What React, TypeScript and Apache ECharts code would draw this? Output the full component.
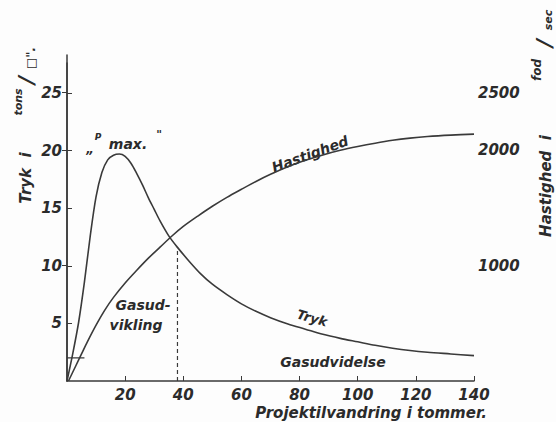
import React, { useEffect, useRef } from "react";
import * as echarts from "echarts";

// Tryk (pressure, tons / sq. inch) vs projectile travel (inches)
const trykX = [0, 2, 4, 6, 8, 10, 12, 14, 16, 18, 20, 22, 24, 26, 28, 30, 32, 35, 38, 42, 46, 50, 55, 60, 65, 70, 76, 82, 88, 94, 100, 106, 112, 118, 124, 132, 140];
const trykY = [0, 2.4, 5.1, 8.6, 12.6, 16.0, 18.1, 19.2, 19.6, 19.7, 19.5, 18.9, 18.0, 17.0, 15.9, 14.9, 13.9, 12.6, 11.6, 10.4, 9.3, 8.4, 7.5, 6.7, 6.05, 5.5, 4.95, 4.5, 4.05, 3.7, 3.4, 3.1, 2.85, 2.65, 2.5, 2.35, 2.2];

// Hastighed (velocity, feet / sec)
const hastX = [0.5, 3, 5, 7, 10, 13, 16, 20, 24, 28, 32, 36, 40, 45, 50, 55, 60, 65, 70, 76, 82, 88, 94, 100, 106, 112, 118, 124, 132, 140];
const hastY = [0, 130, 235, 340, 485, 615, 725, 850, 960, 1065, 1160, 1255, 1340, 1430, 1515, 1592, 1662, 1730, 1792, 1858, 1913, 1960, 2000, 2033, 2062, 2087, 2106, 2120, 2132, 2140];

// end of gas development (dashed line) and initial pressure mark
const gasEndX = [38, 38];
const gasEndY = [0, 11.6];
const startMarkX = [0, 6];
const startMarkY = [2, 2];

const xTicks = [20, 40, 60, 80, 100, 120, 140];
const leftTicks = [5, 10, 15, 20, 25];
const rightTicks = [1000, 2000, 2500];

const INK = "#3a3a3a";
const TXT = "#2b2b2b";
const FONT = "DejaVu Sans";

const zip = (xs: number[], ys: number[]) => xs.map((x, i) => [x, ys[i]]);

export default function App() {
  const ref = useRef<HTMLDivElement>(null);
  useEffect(() => {
    if (!ref.current) return;
    const chart = echarts.init(ref.current, undefined, { renderer: "svg" });
    const lbl = {
      fontFamily: FONT,
      fontStyle: "italic",
      fontWeight: "bold",
      fontSize: 15,
      color: TXT,
      formatter: (v: number) => String(v),
    };
    const txt = (x: number, y: number, text: string, size: number, rot = 0) => ({
      type: "text",
      x,
      y,
      rotation: rot,
      style: {
        text,
        fill: TXT,
        font: `italic bold ${size}px "${FONT}"`,
        textAlign: "center",
        textVerticalAlign: "middle",
      },
    });
    chart.setOption({
      animation: false,
      backgroundColor: "#fdfdfd",
      grid: [
        { left: 67, right: 82, top: 55, bottom: 41 },
        { left: 67, right: 82, top: 63, bottom: 41 },
      ],
      xAxis: [
        {
          type: "value",
          gridIndex: 0,
          min: 0,
          max: 140,
          interval: 20,
          splitLine: { show: false },
          axisLine: { lineStyle: { color: INK, width: 1.5 } },
          axisTick: { inside: true, length: 5, customValues: xTicks, lineStyle: { color: INK } },
          axisLabel: { ...lbl, margin: 6, customValues: xTicks },
        },
        { type: "value", gridIndex: 1, min: 0, max: 140, show: false },
      ],
      yAxis: [
        {
          type: "value",
          gridIndex: 0,
          min: 0,
          max: 28.3,
          splitLine: { show: false },
          axisLine: { show: true, lineStyle: { color: INK, width: 1.5 } },
          axisTick: { show: true, inside: true, length: 5, customValues: leftTicks, lineStyle: { color: INK } },
          axisLabel: { ...lbl, margin: 5, customValues: leftTicks },
        },
        {
          type: "value",
          gridIndex: 1,
          position: "right",
          min: 0,
          max: 2757,
          splitLine: { show: false },
          axisLine: { show: true, lineStyle: { color: INK, width: 1.5 } },
          axisTick: { show: true, inside: true, length: 5, customValues: rightTicks, lineStyle: { color: INK } },
          axisLabel: { ...lbl, margin: 4, customValues: rightTicks },
        },
      ],
      series: [
        {
          name: "Tryk",
          type: "line",
          xAxisIndex: 0,
          yAxisIndex: 0,
          smooth: 0.3,
          showSymbol: false,
          data: zip(trykX, trykY),
          lineStyle: { color: INK, width: 1.6 },
        },
        {
          name: "Hastighed",
          type: "line",
          xAxisIndex: 1,
          yAxisIndex: 1,
          smooth: 0.3,
          showSymbol: false,
          data: zip(hastX, hastY),
          lineStyle: { color: INK, width: 1.6 },
        },
        {
          name: "Gasudvikling slut",
          type: "line",
          xAxisIndex: 0,
          yAxisIndex: 0,
          showSymbol: false,
          data: zip(gasEndX, gasEndY),
          lineStyle: { color: INK, width: 1.2, type: [4, 3] },
        },
        {
          name: "Start",
          type: "line",
          xAxisIndex: 0,
          yAxisIndex: 0,
          showSymbol: false,
          data: zip(startMarkX, startMarkY),
          lineStyle: { color: INK, width: 1.3 },
        },
      ],
      graphic: [
        // left axis name
        txt(26, 178, "Tryk  i", 15, Math.PI / 2),
        txt(18, 102, "tons", 11, Math.PI / 2),
        txt(26, 80, "/", 22, Math.PI / 2),
        txt(31, 58, "□\".", 12, Math.PI / 2),
        // right axis name
        txt(546, 186, "Hastighed  i", 15, Math.PI / 2),
        txt(537, 70, "fod", 12, Math.PI / 2),
        txt(544, 43, "/", 22, Math.PI / 2),
        txt(548, 20, "sec", 11, Math.PI / 2),
        // x axis name
        txt(371, 413, "Projektilvandring i tommer.", 15),
        // annotations
        txt(90, 149, "„", 12),
        txt(98, 137, "P", 9),
        txt(128, 144, "max.", 14),
        txt(159, 134, "\"", 11),
        txt(310, 154, "Hastighed", 14, 0.35),
        txt(312, 318, "Tryk", 13, -0.27),
        txt(143, 305, "Gasud-", 14),
        txt(136, 325, "vikling", 14),
        txt(333, 362, "Gasudvidelse", 14),
      ],
    });
    return () => chart.dispose();
  }, []);
  return (
    <div
      ref={ref}
      style={{ position: "fixed", left: 0, top: 0, width: 556, height: 422 }}
    />
  );
}
